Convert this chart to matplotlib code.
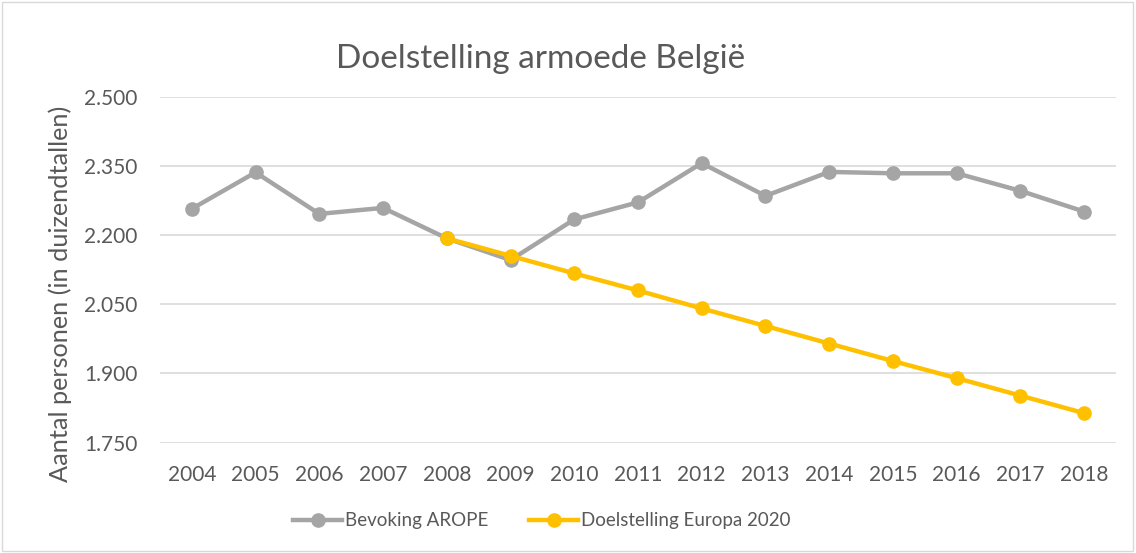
import matplotlib.pyplot as plt
from matplotlib.ticker import FuncFormatter
from matplotlib.patches import Rectangle

plt.rcParams['font.family'] = ['Lato', 'DejaVu Sans']

# data
years = ['2004', '2005', '2006', '2007', '2008', '2009', '2010', '2011',
         '2012', '2013', '2014', '2015', '2016', '2017', '2018']
arope = [2257, 2336, 2246, 2259, 2193, 2146, 2234, 2271,
         2356, 2285, 2337, 2334, 2334, 2296, 2251]
target_years = years[4:]
target = [2193, 2155, 2117, 2080, 2041, 2003, 1965, 1927, 1890, 1852, 1814]

GREY = '#A5A5A5'
YELLOW = '#FFC000'
TXT = '#595959'

fig = plt.figure(figsize=(11.36, 5.53), dpi=100)
ax = fig.add_axes([0.1408, 0.1995, 0.8416, 0.6256])

x = list(range(len(years)))
ax.plot(x, arope, color=GREY, lw=3.2, marker='o', ms=9.5,
        label='Bevoking AROPE', zorder=3)
tx = [years.index(y) for y in target_years]
ax.plot(tx, target, color=YELLOW, lw=3.2, marker='o', ms=9.5,
        label='Doelstelling Europa 2020', zorder=4)

ax.set_xlim(-0.5, len(years) - 0.5)
ax.set_ylim(1750, 2500)
ax.set_yticks([1750, 1900, 2050, 2200, 2350, 2500])
ax.yaxis.set_major_formatter(FuncFormatter(lambda v, p: f'{int(v):,}'.replace(',', '.')))
ax.set_xticks(x)
ax.set_xticklabels(years)
ax.tick_params(length=0, labelsize=15, colors=TXT)
ax.tick_params(axis='y', pad=16)
ax.tick_params(axis='x', pad=16)
ax.grid(axis='y', color='#D9D9D9', lw=1.2)
ax.set_axisbelow(True)
for s in ax.spines.values():
    s.set_visible(False)

ax.set_ylabel('Aantal personen (in duizendtallen)', fontsize=18.2, color=TXT)
ax.yaxis.set_label_coords(-0.092, 0.431)
fig.text(0.476, 0.893, 'Doelstelling armoede België', fontsize=24, color=TXT,
         ha='center', va='center')

leg = fig.legend(loc='center', bbox_to_anchor=(0.477, 0.058), ncol=2, frameon=False,
                 fontsize=13.5, handlelength=2.6, columnspacing=2.2, handletextpad=0.15)
for t in leg.get_texts():
    t.set_color(TXT)

fig.patches.append(Rectangle((0.002, 0.003), 0.995, 0.993, transform=fig.transFigure,
                             fill=False, edgecolor='#D9D9D9', lw=1))

fig.savefig('out.png', dpi=100)
